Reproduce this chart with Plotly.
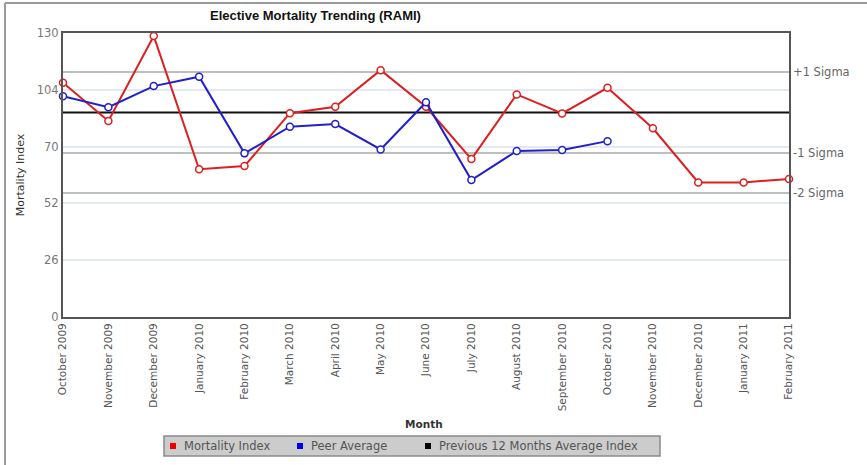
import plotly.graph_objects as go

# Monthly elective mortality figures
months = [
    "October 2009", "November 2009", "December 2009", "January 2010",
    "February 2010", "March 2010", "April 2010", "May 2010", "June 2010",
    "July 2010", "August 2010", "September 2010", "October 2010",
    "November 2010", "December 2010", "January 2011", "February 2011",
]
mortality_index = [107.2, 89.7, 128.6, 67.6, 69.1, 93.3, 96.2, 113.0, 96.2,
                   72.3, 101.9, 93.2, 104.9, 86.4, 61.6, 61.6, 63.2]
peer_average = [101.1, 96.0, 105.7, 110.0, 74.9, 87.1, 88.3, 76.7, 98.3,
                62.7, 76.0, 76.4, 80.5]
prev_12_avg = 93.6
sigma_levels = [112.1, 75.1, 56.8]
sigma_labels = ["+1 Sigma", "-1 Sigma", "-2 Sigma"]
y_tickvals = [0, 26, 52, 78, 104, 130]
y_ticktext = ["0", "26", "52", "70", "104", "130"]
legend_items = [("Mortality Index", "#ee0000"), ("Peer Average", "#0000ee"),
                ("Previous 12 Months Average Index", "#000000")]

# pixel geometry of the plotting area
W, H = 867, 465
L, R, T, B = 63, 789, 33, 317
PW, PH = R - L, B - T


def px_x(px):
    return (px - L) / PW


def px_y(py):
    return (B - py) / PH


FONT = "DejaVu Sans"
RED = "#dd1f1f"
BLUE = "#1f1fcc"

fig = go.Figure()

# sigma reference lines
for lvl in sigma_levels:
    fig.add_trace(go.Scatter(
        x=months, y=[lvl] * len(months), mode="lines",
        line=dict(color="#a8a8a8", width=1.5), showlegend=False,
        hoverinfo="skip"))

# previous 12-month average
fig.add_trace(go.Scatter(
    x=months, y=[prev_12_avg] * len(months), mode="lines",
    line=dict(color="#111111", width=2), showlegend=False,
    name="Previous 12 Months Average Index"))

fig.add_trace(go.Scatter(
    x=months, y=mortality_index, mode="lines+markers",
    line=dict(color=RED, width=2),
    marker=dict(symbol="circle", size=7, color="white",
                line=dict(color=RED, width=1.5)),
    showlegend=False, name="Mortality Index", cliponaxis=False))

fig.add_trace(go.Scatter(
    x=months[:len(peer_average)], y=peer_average, mode="lines+markers",
    line=dict(color=BLUE, width=2),
    marker=dict(symbol="circle", size=7, color="white",
                line=dict(color=BLUE, width=1.5)),
    showlegend=False, name="Peer Average", cliponaxis=False))

annotations = [
    dict(text="<b>Elective Mortality Trending (RAMI)</b>", x=px_x(315), y=px_y(16),
         xref="paper", yref="paper", yanchor="middle", showarrow=False,
         font=dict(family="Liberation Sans", size=13, color="#111")),
    dict(text="<b>Month</b>", x=px_x(424), y=px_y(424),
         xref="paper", yref="paper", yanchor="middle", showarrow=False,
         font=dict(family=FONT, size=10.5, color="#333")),
]
for lvl, lab in zip(sigma_levels, sigma_labels):
    annotations.append(dict(
        text=lab, x=1, y=lvl, xref="paper", yref="y", xanchor="left",
        yanchor="middle", xshift=2, showarrow=False,
        font=dict(family=FONT, size=11.5, color="#666")))

shapes = [
    dict(type="line", xref="paper", yref="paper",
         x0=px_x(5), x1=px_x(870), y0=px_y(3), y1=px_y(3),
         line=dict(color="#9a9a9a", width=2)),
    dict(type="line", xref="paper", yref="paper",
         x0=px_x(5), x1=px_x(5), y0=px_y(3), y1=px_y(470),
         line=dict(color="#9a9a9a", width=2)),
    # legend box
    dict(type="rect", xref="paper", yref="paper",
         x0=px_x(164), x1=px_x(660), y0=px_y(436), y1=px_y(456),
         fillcolor="#cccccc", line=dict(color="#8a8a8a", width=1.5)),
]

# legend entries: square swatch followed by its label
legend_x = [170, 297, 425]
for (name, col), lx in zip(legend_items, legend_x):
    shapes.append(dict(type="rect", xref="paper", yref="paper",
                       x0=px_x(lx), x1=px_x(lx + 6),
                       y0=px_y(443), y1=px_y(449),
                       fillcolor=col, line=dict(width=0)))
    annotations.append(dict(text=name, x=px_x(lx + 12), y=px_y(446),
                            xref="paper", yref="paper", xanchor="left",
                            yanchor="middle", showarrow=False,
                            font=dict(family=FONT, size=11.5, color="#555")))

fig.update_layout(
    width=W, height=H,
    margin=dict(l=L, r=W - R, t=T, b=H - B, autoexpand=False),
    plot_bgcolor="white", paper_bgcolor="white",
    font=dict(family=FONT, color="#666"),
    annotations=annotations, shapes=shapes, showlegend=False,
    xaxis=dict(type="category", range=[0, len(months) - 1], automargin=False,
               tickangle=-90, tickfont=dict(family=FONT, size=10.5, color="#555"),
               showgrid=False, showline=True, mirror=True,
               linecolor="#555", linewidth=2, ticks="", zeroline=False),
    yaxis=dict(range=[0, 130], tickvals=y_tickvals, ticktext=y_ticktext,
               automargin=False,
               tickfont=dict(family=FONT, size=11.5, color="#777"),
               showgrid=True, gridcolor="#e2e9f3", gridwidth=1.5,
               showline=True, mirror=True, linecolor="#555", linewidth=2,
               ticks="", zeroline=False,
               title=dict(text="Mortality Index", standoff=10,
                          font=dict(family=FONT, size=11, color="#333"))),
)

fig.write_html("out.html")
